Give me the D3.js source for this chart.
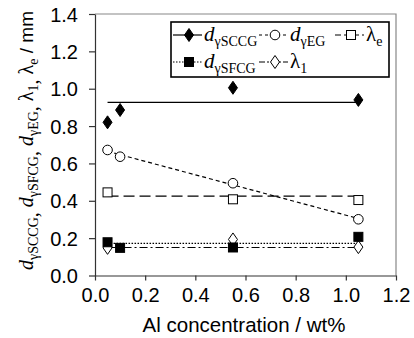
<!DOCTYPE html>
<html>
<head>
<meta charset="utf-8">
<script src="https://cdn.jsdelivr.net/npm/d3@7"></script>
<style>
  body { margin: 0; background: #fff; }
  svg { display: block; }
  .tick text { font-family: "Liberation Sans", Arial, sans-serif; font-size: 20px; fill: #000; }
</style>
</head>
<body>
<div id="chart-area"></div>
<script>
// measured points
const alX = [0.05, 0.1, 0.55, 1.05]
const dSCCG = [0.82, 0.886, 1.005, 0.94]
const dEG = [0.672, 0.636, 0.494, 0.301]
const dSFCG = [0.178, 0.148, 0.15, 0.207]
const lamX = [0.05, 0.55, 1.05]
const lamE = [0.445, 0.408, 0.404]
const lam1 = [0.148, 0.193, 0.152]

// fitted / mean lines
const lineX = [0.05, 1.05]
const sccgLevel = [0.927, 0.927]
const egFit = [0.665, 0.305]
const lamELevel = [0.425, 0.425]
const sfcgLevel = [0.172, 0.172]
const lam1Level = [0.15, 0.15]

const xTicks = [0, 0.2, 0.4, 0.6, 0.8, 1.0, 1.2]
const yTicks = [0, 0.2, 0.4, 0.6, 0.8, 1.0, 1.2, 1.4]

const W = 414, H = 338
const MARGIN = { LEFT: 95, RIGHT: 18, TOP: 14, BOTTOM: 62.5 }

const svg = d3.select("#chart-area").append("svg")
  .attr("width", W)
  .attr("height", H)

const x = d3.scaleLinear().domain([0, 1.2]).range([MARGIN.LEFT, W - MARGIN.RIGHT])
const y = d3.scaleLinear().domain([0, 1.4]).range([H - MARGIN.BOTTOM, MARGIN.TOP])

// frame (top / right)
svg.append("path")
  .attr("d", `M${x(0)},${y(1.4)}H${x(1.2)}V${y(0)}`)
  .attr("fill", "none")
  .attr("stroke", "#888")
  .attr("stroke-width", 1.2)

const xAxis = svg.append("g")
  .attr("transform", `translate(0, ${y(0)})`)
  .call(d3.axisBottom(x).tickValues(xTicks).tickFormat(d3.format(".1f")).tickSize(5).tickSizeOuter(0).tickPadding(7))
const yAxis = svg.append("g")
  .attr("transform", `translate(${x(0)}, 0)`)
  .call(d3.axisLeft(y).tickValues(yTicks).tickFormat(d3.format(".1f")).tickSize(6).tickSizeOuter(0).tickPadding(11))
svg.selectAll(".domain, .tick line").attr("stroke", "#333").attr("stroke-width", 1.2)
yAxis.selectAll(".tick text").attr("dy", "0.36em")

// reference lines
const line = d3.line().x(d => x(d[0])).y(d => y(d[1]))
const refs = [
  { vals: sccgLevel, dash: null },
  { vals: egFit, dash: "4,3" },
  { vals: lamELevel, dash: "11,5" },
  { vals: sfcgLevel, dash: "1.5,1.5" },
  { vals: lam1Level, dash: "8,3,2,3" }
]
refs.forEach(r => {
  svg.append("path")
    .attr("d", line(d3.zip(lineX, r.vals)))
    .attr("fill", "none")
    .attr("stroke", "#000")
    .attr("stroke-width", 1.2)
    .attr("stroke-dasharray", r.dash)
})

// marker shapes
function diamondPath(w, h) {
  return `M0,${-h / 2}L${w / 2},0L0,${h / 2}L${-w / 2},0Z`
}
function drawMarker(g, type, cx, cy) {
  if (type === "diamondFill" || type === "diamondOpen") {
    g.append("path")
      .attr("d", diamondPath(9, 13))
      .attr("transform", `translate(${cx},${cy})`)
      .attr("fill", type === "diamondFill" ? "#000" : "#fff")
      .attr("stroke", "#000")
      .attr("stroke-width", 1)
  } else if (type === "circle") {
    g.append("circle")
      .attr("cx", cx).attr("cy", cy).attr("r", 4.8)
      .attr("fill", "#fff").attr("stroke", "#000").attr("stroke-width", 1)
  } else {
    g.append("rect")
      .attr("x", cx - 4.5).attr("y", cy - 4.5)
      .attr("width", 9).attr("height", 9)
      .attr("fill", type === "squareFill" ? "#000" : "#fff")
      .attr("stroke", "#000").attr("stroke-width", 1)
  }
}

const marks = svg.append("g")
const series = [
  { xs: alX, ys: dSCCG, type: "diamondFill" },
  { xs: alX, ys: dEG, type: "circle" },
  { xs: lamX, ys: lamE, type: "squareOpen" },
  { xs: lamX, ys: lam1, type: "diamondOpen" },
  { xs: alX, ys: dSFCG, type: "squareFill" }
]
series.forEach(s => {
  s.xs.forEach((v, i) => drawMarker(marks, s.type, x(v), y(s.ys[i])))
})

// legend
const leg = svg.append("g")
leg.append("rect")
  .attr("x", 171).attr("y", 22)
  .attr("width", 218).attr("height", 55)
  .attr("fill", "#fff")
  .attr("stroke", "#000")
  .attr("stroke-width", 1.6)

const serif = "'Liberation Serif', 'Times New Roman', serif"
const legItems = [
  { x: 173, y: 35, type: "diamondFill", dash: null, main: "d", sub: "γSCCG", italic: true },
  { x: 259, y: 35, type: "circle", dash: "3,3", main: "d", sub: "γEG", italic: true },
  { x: 335, y: 35, type: "squareOpen", dash: "6,3", main: "λ", sub: "e", italic: false },
  { x: 173, y: 62, type: "squareFill", dash: "1.5,1.5", main: "d", sub: "γSFCG", italic: true },
  { x: 259, y: 62, type: "diamondOpen", dash: "6,2,2,2", main: "λ", sub: "1", italic: false }
]
legItems.forEach(it => {
  leg.append("line")
    .attr("x1", it.x).attr("x2", it.x + 29)
    .attr("y1", it.y).attr("y2", it.y)
    .attr("stroke", "#000").attr("stroke-width", 1.2)
    .attr("stroke-dasharray", it.dash)
  drawMarker(leg, it.type, it.x + 16, it.y)
  const t = leg.append("text")
    .attr("x", it.x + 31).attr("y", it.y + 6)
    .attr("font-family", serif)
    .attr("font-size", 21)
  t.append("tspan").attr("font-style", it.italic ? "italic" : "normal").text(it.main)
  t.append("tspan").attr("font-size", 14).attr("dy", 5).text(it.sub)
})

// axis labels
svg.append("text")
  .attr("x", 244)
  .attr("y", 332)
  .attr("text-anchor", "middle")
  .attr("font-family", "'Liberation Sans', Arial, sans-serif")
  .attr("font-size", 20.5)
  .text("Al concentration / wt%")

const yLabel = svg.append("text")
  .attr("transform", `translate(33, 270) rotate(-90)`)
  .attr("font-family", serif)
  .attr("font-size", 20)
const yParts = [
  ["d", "γSCCG", true], ["d", "γSFCG", true], ["d", "γEG", true], ["λ", "1", false], ["λ", "e", false]
]
yParts.forEach((p, i) => {
  yLabel.append("tspan").attr("font-style", p[2] ? "italic" : "normal").attr("dy", i === 0 ? 0 : -5).text(p[0])
  yLabel.append("tspan").attr("font-size", 14).attr("dy", 5).text(p[1])
  if (i < yParts.length - 1) yLabel.append("tspan").attr("dy", 0).text(", ")
})
yLabel.append("tspan").attr("dy", -5)
  .attr("font-family", "'Liberation Sans', Arial, sans-serif")
  .attr("font-size", 19)
  .text(" / mm")
</script>
</body>
</html>
